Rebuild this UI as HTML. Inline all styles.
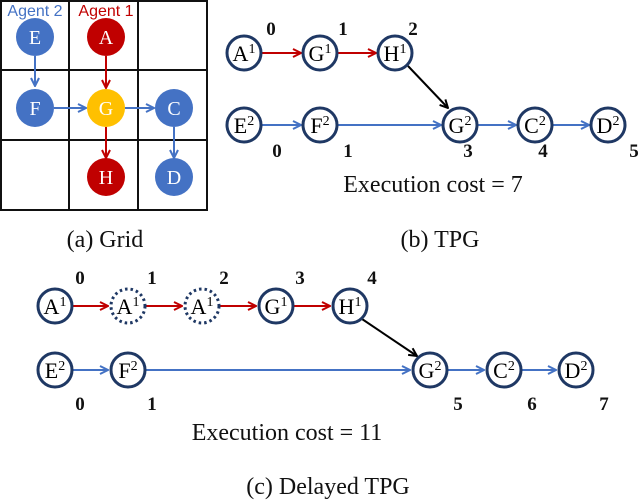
<!DOCTYPE html>
<html><head><style>
html,body{margin:0;padding:0;background:#fff;}
svg{display:block;}
text{font-family:"Liberation Serif",serif;}
.n{font-size:22px;text-anchor:middle;fill:#000;}
.b{font-size:19px;font-weight:bold;text-anchor:middle;fill:#111;}
.c{font-size:24px;text-anchor:middle;fill:#111;}
.g{font-family:"Liberation Serif",serif;font-size:20px;text-anchor:middle;fill:#fff;}
</style></head><body>
<svg width="640" height="501" viewBox="0 0 640 501" xmlns="http://www.w3.org/2000/svg">
<defs>
<marker id="ar" markerWidth="10" markerHeight="10" refX="9" refY="5" orient="auto" markerUnits="userSpaceOnUse"><path d="M1,1 L9,5 L1,9" fill="none" stroke="#c00000" stroke-width="2"/></marker>
<marker id="ab" markerWidth="10" markerHeight="10" refX="9" refY="5" orient="auto" markerUnits="userSpaceOnUse"><path d="M1,1 L9,5 L1,9" fill="none" stroke="#4472c4" stroke-width="2"/></marker>
<marker id="ak" markerWidth="10" markerHeight="10" refX="9" refY="5" orient="auto" markerUnits="userSpaceOnUse"><path d="M1,1 L9,5 L1,9" fill="none" stroke="#000" stroke-width="2"/></marker>
</defs>
<g stroke="#111" stroke-width="2" fill="none">
<rect x="1" y="1" width="206" height="209"/>
<line x1="69" y1="1" x2="69" y2="210"/><line x1="138" y1="1" x2="138" y2="210"/>
<line x1="1" y1="70" x2="207" y2="70"/><line x1="1" y1="140" x2="207" y2="140"/>
</g>
<text x="35" y="16" style="font-family:'Liberation Sans',sans-serif;font-size:16px;fill:#4472c4;text-anchor:middle">Agent 2</text>
<text x="106" y="16" style="font-family:'Liberation Sans',sans-serif;font-size:16px;fill:#c00000;text-anchor:middle">Agent 1</text>
<g stroke-width="2">
<line x1="35" y1="56" x2="35" y2="86" stroke="#4472c4" marker-end="url(#ab)"/>
<line x1="106" y1="56" x2="106" y2="88" stroke="#c00000" marker-end="url(#ar)"/>
<line x1="54" y1="108" x2="86" y2="108" stroke="#4472c4" marker-end="url(#ab)"/>
<line x1="125" y1="108" x2="154" y2="108" stroke="#4472c4" marker-end="url(#ab)"/>
<line x1="106" y1="127" x2="106" y2="158" stroke="#c00000" marker-end="url(#ar)"/>
<line x1="174" y1="127" x2="174" y2="158" stroke="#4472c4" marker-end="url(#ab)"/>
</g>
<circle cx="35" cy="37" r="19" fill="#4472c4"/><text class="g" x="35" y="44">E</text>
<circle cx="106" cy="37" r="19" fill="#c00000"/><text class="g" x="106" y="44">A</text>
<circle cx="35" cy="108" r="19" fill="#4472c4"/><text class="g" x="35" y="115">F</text>
<circle cx="106" cy="108" r="19" fill="#ffc000"/><text class="g" x="106" y="115">G</text>
<circle cx="174" cy="108" r="19" fill="#4472c4"/><text class="g" x="174" y="115">C</text>
<circle cx="106" cy="177" r="19" fill="#c00000"/><text class="g" x="106" y="184">H</text>
<circle cx="174" cy="177" r="19" fill="#4472c4"/><text class="g" x="174" y="184">D</text>
<text class="c" x="105" y="247">(a) Grid</text>

<g stroke-width="2">
<line x1="261" y1="53" x2="301" y2="53" stroke="#c00000" marker-end="url(#ar)"/>
<line x1="337" y1="53" x2="376" y2="53" stroke="#c00000" marker-end="url(#ar)"/>
<line x1="408" y1="66" x2="448" y2="108" stroke="#000" marker-end="url(#ak)"/>
<line x1="261" y1="125" x2="301" y2="125" stroke="#4472c4" marker-end="url(#ab)"/>
<line x1="337" y1="125" x2="441" y2="125" stroke="#4472c4" marker-end="url(#ab)"/>
<line x1="477" y1="125" x2="516" y2="125" stroke="#4472c4" marker-end="url(#ab)"/>
<line x1="552" y1="125" x2="589" y2="125" stroke="#4472c4" marker-end="url(#ab)"/>
</g>
<g fill="#fff" stroke="#1f3864" stroke-width="3">
<circle cx="244" cy="53" r="17"/><circle cx="320" cy="53" r="17"/><circle cx="395" cy="53" r="17"/>
<circle cx="244" cy="125" r="17"/><circle cx="320" cy="125" r="17"/><circle cx="460" cy="125" r="17"/><circle cx="535" cy="125" r="17"/><circle cx="608" cy="125" r="17"/>
</g>
<text class="n" x="244" y="61">A<tspan font-size="14" dy="-8">1</tspan></text>
<text class="n" x="320" y="61">G<tspan font-size="14" dy="-8">1</tspan></text>
<text class="n" x="395" y="61">H<tspan font-size="14" dy="-8">1</tspan></text>
<text class="n" x="244" y="133">E<tspan font-size="14" dy="-8">2</tspan></text>
<text class="n" x="320" y="133">F<tspan font-size="14" dy="-8">2</tspan></text>
<text class="n" x="460" y="133">G<tspan font-size="14" dy="-8">2</tspan></text>
<text class="n" x="535" y="133">C<tspan font-size="14" dy="-8">2</tspan></text>
<text class="n" x="608" y="133">D<tspan font-size="14" dy="-8">2</tspan></text>
<text class="b" x="271" y="35">0</text><text class="b" x="343" y="35">1</text><text class="b" x="413" y="35">2</text>
<text class="b" x="277" y="157">0</text><text class="b" x="348" y="157">1</text><text class="b" x="468" y="157">3</text><text class="b" x="543" y="157">4</text><text class="b" x="634" y="157">5</text>
<text class="c" x="433" y="192">Execution cost = 7</text>
<text class="c" x="440" y="247">(b) TPG</text>

<g stroke-width="2">
<line x1="73" y1="306" x2="108" y2="306" stroke="#c00000" marker-end="url(#ar)"/>
<line x1="146" y1="306" x2="182" y2="306" stroke="#c00000" marker-end="url(#ar)"/>
<line x1="220" y1="306" x2="256" y2="306" stroke="#c00000" marker-end="url(#ar)"/>
<line x1="294" y1="306" x2="330" y2="306" stroke="#c00000" marker-end="url(#ar)"/>
<line x1="362" y1="319" x2="417" y2="356" stroke="#000" marker-end="url(#ak)"/>
<line x1="73" y1="370" x2="108" y2="370" stroke="#4472c4" marker-end="url(#ab)"/>
<line x1="146" y1="370" x2="410" y2="370" stroke="#4472c4" marker-end="url(#ab)"/>
<line x1="448" y1="370" x2="484" y2="370" stroke="#4472c4" marker-end="url(#ab)"/>
<line x1="522" y1="370" x2="556" y2="370" stroke="#4472c4" marker-end="url(#ab)"/>
</g>
<g fill="#fff" stroke="#1f3864" stroke-width="3">
<circle cx="55" cy="306" r="17"/><circle cx="276" cy="306" r="17"/><circle cx="350" cy="306" r="17"/>
<circle cx="55" cy="370" r="17"/><circle cx="128" cy="370" r="17"/><circle cx="430" cy="370" r="17"/><circle cx="504" cy="370" r="17"/><circle cx="576" cy="370" r="17"/>
</g>
<g fill="#fff" stroke="#1f3864" stroke-width="3" stroke-dasharray="2.5 3">
<circle cx="128" cy="306" r="17"/><circle cx="202" cy="306" r="17"/>
</g>
<text class="n" x="55" y="314">A<tspan font-size="14" dy="-8">1</tspan></text>
<text class="n" x="128" y="314">A<tspan font-size="14" dy="-8">1</tspan></text>
<text class="n" x="202" y="314">A<tspan font-size="14" dy="-8">1</tspan></text>
<text class="n" x="276" y="314">G<tspan font-size="14" dy="-8">1</tspan></text>
<text class="n" x="350" y="314">H<tspan font-size="14" dy="-8">1</tspan></text>
<text class="n" x="55" y="378">E<tspan font-size="14" dy="-8">2</tspan></text>
<text class="n" x="128" y="378">F<tspan font-size="14" dy="-8">2</tspan></text>
<text class="n" x="430" y="378">G<tspan font-size="14" dy="-8">2</tspan></text>
<text class="n" x="504" y="378">C<tspan font-size="14" dy="-8">2</tspan></text>
<text class="n" x="576" y="378">D<tspan font-size="14" dy="-8">2</tspan></text>
<text class="b" x="80" y="284">0</text><text class="b" x="152" y="284">1</text><text class="b" x="224" y="284">2</text><text class="b" x="300" y="284">3</text><text class="b" x="372" y="284">4</text>
<text class="b" x="80" y="410">0</text><text class="b" x="152" y="410">1</text><text class="b" x="458" y="410">5</text><text class="b" x="532" y="410">6</text><text class="b" x="604" y="410">7</text>
<text class="c" x="287" y="440">Execution cost = 11</text>
<text class="c" x="328" y="494">(c) Delayed TPG</text>
</svg>
</body></html>
